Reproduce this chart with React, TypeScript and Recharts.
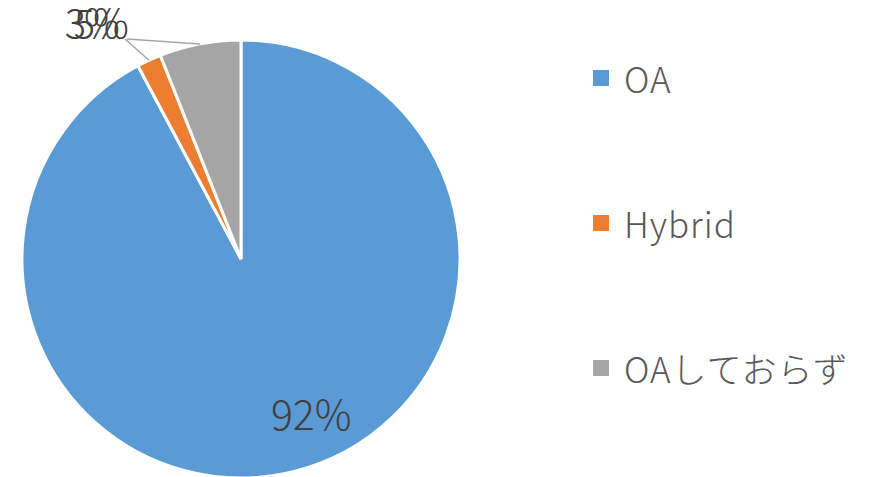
import { PieChart, Pie, Cell, Legend } from "recharts";

const categories = ["OA", "Hybrid", "OAしておらず"];
const shares = [92.2, 1.8, 6.0];
const labelTexts = ["92%", "3%", "5%"];
const COLORS = ["#5B9BD5", "#ED7D31", "#A5A5A5"];

const FONT = "'Noto Sans CJK JP', 'Noto Sans', sans-serif";
const RAD = Math.PI / 180;

const data = categories.map((name, i) => ({ name, value: shares[i], label: labelTexts[i] }));

// inside label for the big slice, leader-lined labels for the small ones (stacked like the original)
const renderLabel = (props: any) => {
  const { cx, cy, midAngle, outerRadius, index } = props;
  if (index === 0) {
    const r = outerRadius * 0.72;
    const x = cx + r * Math.cos(-midAngle * RAD) + 32;
    const y = cy + r * Math.sin(-midAngle * RAD);
    return (
      <text x={x} y={y} fill="#404040" fontSize={41} fontFamily={FONT} fontWeight={300}
        textAnchor="middle" dominantBaseline="central">
        {labelTexts[index]}
      </text>
    );
  }
  const sx = cx + outerRadius * Math.cos(-midAngle * RAD);
  const sy = cy + outerRadius * Math.sin(-midAngle * RAD);
  const ex = cx - 114 - (index === 1 ? 2 : 0);
  const ey = cy - 220;
  const tx = ex - (index === 1 ? 7 : 0);
  return (
    <g>
      <polyline points={`${sx},${sy} ${ex},${ey}`} stroke="#A5A5A5" strokeWidth={1.5} fill="none" />
      <text x={tx} y={ey - 1} fill="#404040" fontSize={40} fontFamily={FONT} fontWeight={300}
        textAnchor="end" letterSpacing={-2}>
        {labelTexts[index]}
      </text>
    </g>
  );
};

const renderLegend = () => (
  <div style={{ display: "flex", flexDirection: "column" }}>
    {categories.map((c, i) => (
      <div key={c} style={{ display: "flex", alignItems: "center", height: 145 }}>
        <span style={{ width: 16, height: 16, background: COLORS[i], marginRight: 15, display: "inline-block" }} />
        <span style={{ fontFamily: FONT, fontSize: 35, fontWeight: 300, color: "#595959", letterSpacing: 1 }}>{c}</span>
      </div>
    ))}
  </div>
);

export default function App() {
  return (
    <div style={{ position: "absolute", left: 0, top: 0, background: "#fff" }}>
      <PieChart width={884} height={477} margin={{ top: 0, right: 0, bottom: 0, left: 0 }}>
        <Pie
          data={data}
          dataKey="value"
          nameKey="name"
          cx={241}
          cy={259}
          outerRadius={219}
          startAngle={90}
          endAngle={-270}
          stroke="#ffffff"
          strokeWidth={3}
          label={renderLabel}
          labelLine={false}
          isAnimationActive={false}
        >
          {data.map((d, i) => (
            <Cell key={d.name} fill={COLORS[i]} />
          ))}
        </Pie>
        <Legend
          layout="vertical"
          verticalAlign="top"
          align="right"
          content={renderLegend}
          wrapperStyle={{ left: 593, top: 5, width: 290 }}
        />
      </PieChart>
    </div>
  );
}
